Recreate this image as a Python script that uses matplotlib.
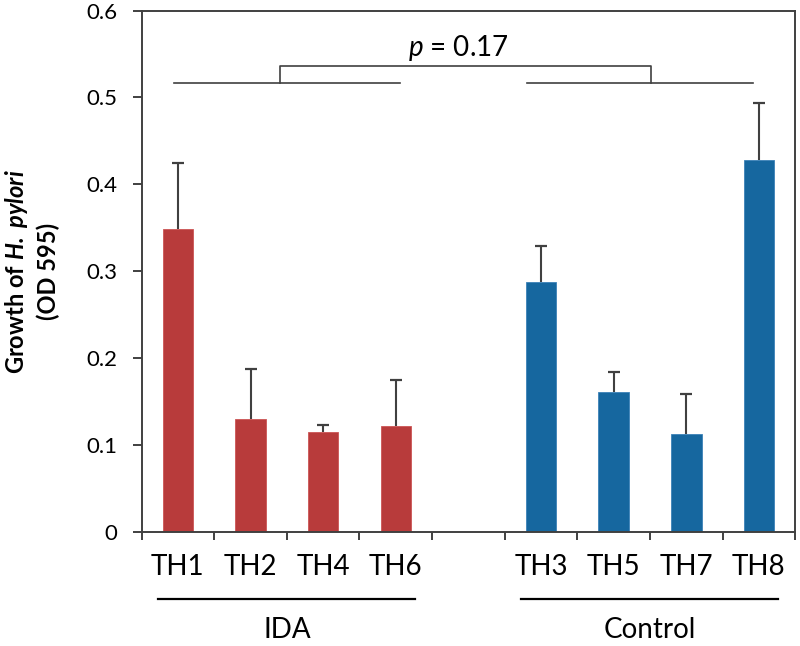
import numpy as np
import matplotlib
matplotlib.use("Agg")
import matplotlib.pyplot as plt

plt.rcParams['font.family'] = ['Lato', 'DejaVu Sans']
plt.rcParams['mathtext.fontset'] = 'custom'
plt.rcParams['mathtext.rm'] = 'Lato'
plt.rcParams['mathtext.it'] = 'Lato:italic'
plt.rcParams['mathtext.bf'] = 'Lato:bold'
plt.rcParams['mathtext.bfit'] = 'Lato:bold:italic'

# ---- data ----
ida_labels = ["TH1", "TH2", "TH4", "TH6"]
ida_values = [0.349, 0.130, 0.115, 0.122]
ida_errors = [0.075, 0.057, 0.008, 0.053]

ctrl_labels = ["TH3", "TH5", "TH7", "TH8"]
ctrl_values = [0.288, 0.161, 0.113, 0.428]
ctrl_errors = [0.041, 0.023, 0.045, 0.066]

group_names = ["IDA", "Control"]
p_text = r"$\mathit{p}$ = 0.17"
yticks = [0, 0.1, 0.2, 0.3, 0.4, 0.5, 0.6]
ytick_labels = ["0", "0.1", "0.2", "0.3", "0.4", "0.5", "0.6"]

RED = "#B83B3B"
BLUE = "#16679F"
GRAY = "#404040"

fig = plt.figure(figsize=(8.0, 6.46), dpi=100)
ax = fig.add_axes([0.177, 0.177, 0.817, 0.8065])

x_ida = np.arange(len(ida_labels))
x_ctrl = np.arange(len(ctrl_labels)) + len(ida_labels) + 1

bw = 0.42
for xs, vals, errs, col, edge in ((x_ida, ida_values, ida_errors, RED, "#CC5555"),
                                  (x_ctrl, ctrl_values, ctrl_errors, BLUE, "#3C82B8")):
    vals = np.asarray(vals)
    errs = np.asarray(errs)
    ax.bar(xs, vals, width=bw, color=col, edgecolor=edge, linewidth=0.6, zorder=2)
    ax.errorbar(xs, vals, yerr=[np.zeros(len(errs)), errs], fmt='none',
                ecolor=GRAY, elinewidth=1.5, capsize=0, zorder=1.5)
    ax.plot(xs, vals + errs, linestyle='none', marker='_', markersize=9,
            markeredgewidth=1.6, color=GRAY, zorder=3)

ax.set_xlim(-0.5, 8.5)
ax.set_ylim(0, 0.6)

for s in ax.spines.values():
    s.set_color(GRAY)
    s.set_linewidth(1.4)

ax.set_yticks(yticks)
ax.set_yticklabels(ytick_labels, fontsize=16)
ax.tick_params(axis='y', direction='out', length=6.5, width=1.4, color=GRAY, pad=11)

all_x = np.concatenate([x_ida, x_ctrl])
ax.set_xticks(all_x)
ax.set_xticklabels(ida_labels + ctrl_labels, fontsize=20)
ax.tick_params(axis='x', which='major', length=0, pad=16)
ax.set_xticks(np.arange(-0.5, 9.0, 1.0), minor=True)
ax.tick_params(axis='x', which='minor', direction='out', length=6, width=1.4, color=GRAY)

xt = ax.get_xaxis_transform()
# group underlines and names
for xs, name in ((x_ida, group_names[0]), (x_ctrl, group_names[1])):
    ax.plot([xs[0] - 0.27, xs[-1] + 0.27], [-0.129, -0.129], color="black", lw=1.6,
            transform=xt, clip_on=False)
    ax.text((xs[0] + xs[-1]) / 2, -0.189, name, transform=xt, ha='center', va='center',
            fontsize=20)

# significance bracket
y_low, y_high = 0.517, 0.536
ax.plot([x_ida[0] - 0.05, x_ida[-1] + 0.06], [y_low, y_low], color=GRAY, lw=1.2)
ax.plot([x_ctrl[0] - 0.19, x_ctrl[-1] - 0.08], [y_low, y_low], color=GRAY, lw=1.2)
ax.plot([1.41, 1.41, 6.51, 6.51], [y_low, y_high, y_high, y_low], color=GRAY, lw=1.2)
ax.text(3.86, 0.548, p_text, ha='center', va='baseline', fontsize=20)

ax.text(-0.1687, 0.5, "Growth of $\\mathbfit{H.\\ pylori}$\n(OD 595)", transform=ax.transAxes,
        rotation=90, ha='center', va='center', multialignment='center',
        fontsize=17, fontweight='bold', linespacing=1.35)

fig.savefig("out.png", dpi=100)
